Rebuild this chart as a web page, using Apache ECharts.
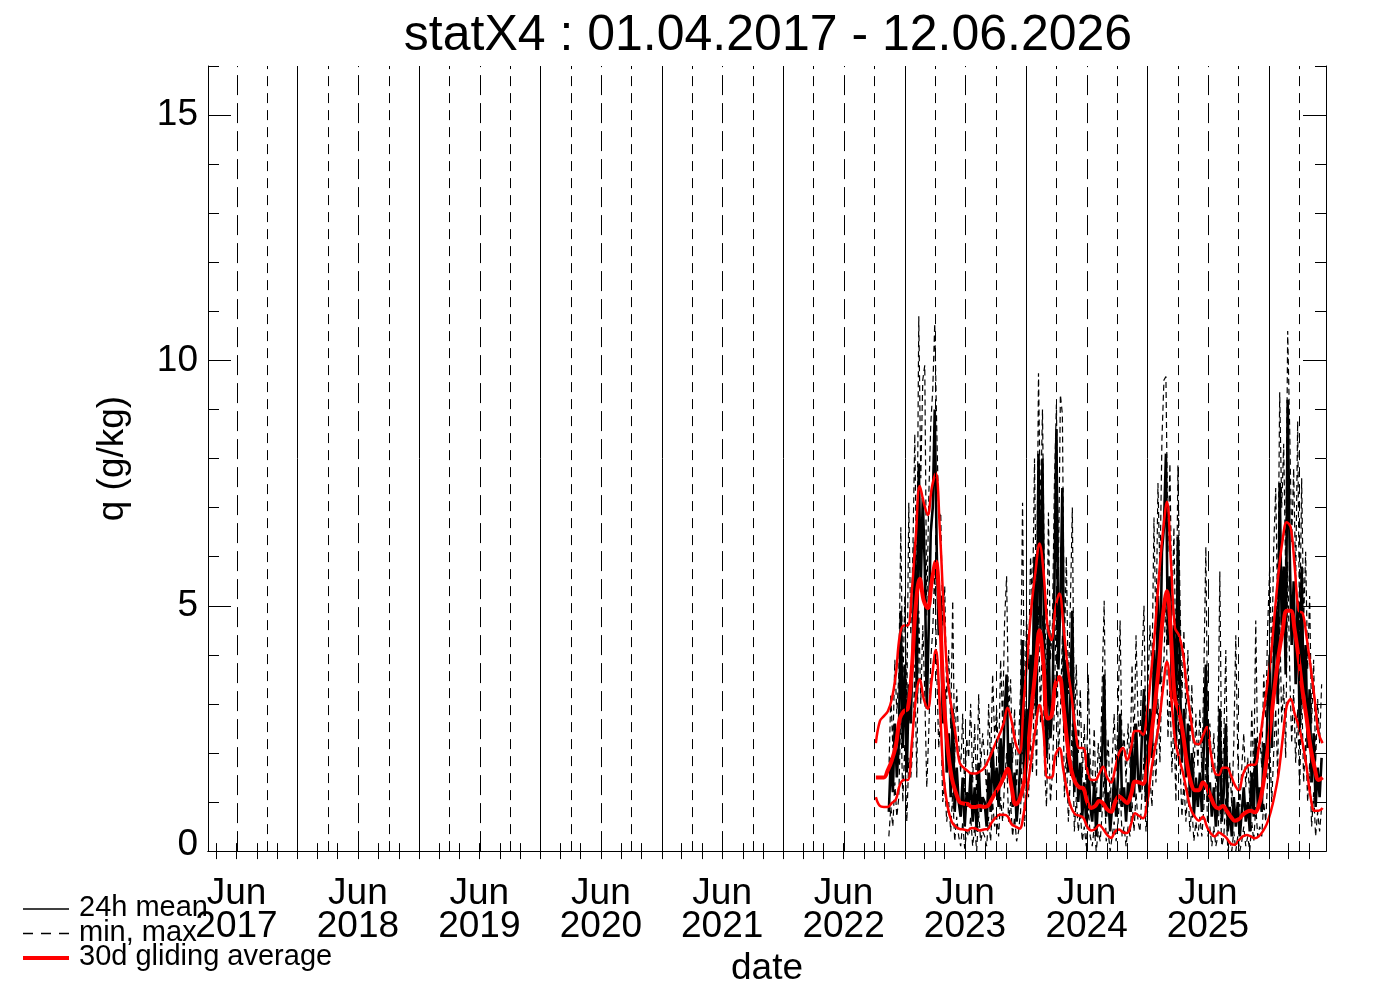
<!DOCTYPE html>
<html>
<head>
<meta charset="utf-8">
<script src="https://cdn.jsdelivr.net/npm/echarts@6/dist/echarts.min.js"></script>
<style>
  html, body { margin: 0; padding: 0; background: #fff; }
  #chart { width: 1388px; height: 992px; }
</style>
</head>
<body>
<div id="chart"></div>
<script>
const titleText = 'statX4 : 01.04.2017 - 12.06.2026';
const FONT = "'Liberation Sans', Arial, sans-serif";

// daily statistics, sampled every 6 days from the start date
const dailyStart = '2022-11-14';
const dailyStepDays = 6;
const meanValues = [
  0.8, 1.9, 1.2, 2.6, 1.5, 2.2,
  4.9, 2.1, 3.8, 1.6, 3.4, 2.6,
  4.2, 6.3, 3.1, 7.9, 5.4, 7.2,
  5.8, 2.9, 4.6, 6.5, 7.0, 9.0,
  6.1, 4.4, 5.2, 2.6, 3.3, 1.6,
  2.4, 1.1, 2.9, 0.8, 1.7, 1.0,
  0.7, 1.5, 0.5, 1.2, 0.9, 1.6,
  0.6, 1.3, 0.4, 1.8, 0.8, 1.1,
  1.0, 0.5, 1.6, 0.8, 2.1, 1.2,
  1.7, 0.9, 2.3, 1.4, 2.8, 3.6,
  1.5, 2.2, 0.9, 1.6, 0.6, 1.1,
  1.9, 4.3, 1.4, 2.9, 2.2, 4.0,
  3.1, 6.0, 2.8, 8.1, 4.5, 8.0,
  3.4, 1.9, 4.6, 2.3, 3.0, 5.4,
  8.6, 3.7, 5.1, 7.4, 2.4, 3.9,
  1.6, 3.1, 4.9, 1.2, 2.3, 1.0,
  1.8, 0.7, 1.4, 0.5, 2.0, 0.9,
  0.6, 1.4, 0.3, 1.1, 0.8, 1.9,
  3.6, 0.7, 1.2, 0.4, 0.9, 1.5,
  0.7, 1.6, 2.8, 0.9, 1.3, 0.6,
  1.4, 0.8, 2.2, 1.1, 2.6, 1.5,
  1.2, 2.4, 3.3, 1.0, 2.0, 2.9,
  1.9, 4.1, 2.8, 5.2, 3.4, 6.1,
  6.6, 8.1, 4.2, 5.6, 3.1, 4.6,
  2.2, 6.4, 3.6, 1.8, 2.9, 1.5,
  2.6, 1.1, 2.0, 0.7, 1.5, 0.9,
  1.6, 0.8, 2.1, 3.8, 1.0, 1.4,
  0.7, 1.3, 0.5, 1.0, 2.9, 0.6,
  1.2, 2.6, 0.4, 0.9, 0.3, 1.1,
  0.5, 1.0, 0.3, 0.8, 1.3, 0.6,
  1.0, 0.4, 1.6, 0.7, 2.3, 0.9,
  1.3, 0.8, 2.2, 1.5, 3.0, 4.0,
  2.1, 3.8, 5.0, 3.0, 7.5, 4.6,
  5.8, 3.6, 9.2, 6.1, 4.2, 5.5,
  3.4, 5.1, 2.5, 5.8, 3.0, 4.2,
  2.1, 3.3, 1.4, 2.4, 0.9, 1.7,
  1.1, 1.9
];
const minValues = [
  0.3, 0.9, 0.5, 1.4, 0.7, 1.1,
  2.9, 1.0, 2.2, 0.6, 1.9, 1.5,
  2.1, 3.8, 1.5, 4.9, 3.0, 4.6,
  3.2, 1.3, 2.4, 3.9, 4.5, 5.8,
  3.7, 2.1, 2.8, 1.0, 1.4, 0.6,
  1.0, 0.4, 1.2, 0.2, 0.7, 0.3,
  0.1, 0.6, 0.05, 0.4, 0.3, 0.7,
  0.1, 0.5, 0.0, 0.8, 0.2, 0.4,
  0.3, 0.1, 0.7, 0.2, 1.0, 0.5,
  0.7, 0.3, 1.1, 0.6, 1.4, 2.0,
  0.6, 1.0, 0.3, 0.7, 0.2, 0.4,
  0.8, 2.3, 0.5, 1.5, 1.1, 2.3,
  1.6, 3.6, 1.5, 5.0, 2.6, 4.8,
  1.8, 0.9, 2.7, 1.0, 1.6, 3.0,
  5.2, 1.9, 2.8, 4.4, 1.1, 2.0,
  0.6, 1.5, 2.6, 0.4, 1.1, 0.4,
  0.8, 0.2, 0.5, 0.1, 0.9, 0.3,
  0.1, 0.5, 0.0, 0.4, 0.2, 0.8,
  1.6, 0.2, 0.4, 0.0, 0.3, 0.6,
  0.2, 0.6, 1.3, 0.3, 0.5, 0.1,
  0.5, 0.3, 1.0, 0.4, 1.2, 0.6,
  0.4, 1.2, 1.9, 0.4, 0.9, 1.5,
  0.9, 2.2, 1.4, 3.1, 1.8, 3.7,
  3.9, 5.3, 2.3, 3.3, 1.6, 2.7,
  1.0, 3.9, 1.9, 0.7, 1.4, 0.6,
  1.3, 0.4, 0.9, 0.2, 0.6, 0.3,
  0.7, 0.3, 0.9, 1.9, 0.3, 0.5,
  0.1, 0.5, 0.1, 0.3, 1.2, 0.1,
  0.3, 1.1, 0.0, 0.2, 0.0, 0.4,
  0.0, 0.3, 0.0, 0.2, 0.5, 0.1,
  0.3, 0.0, 0.6, 0.2, 0.9, 0.3,
  0.5, 0.3, 1.0, 0.6, 1.5, 2.2,
  1.0, 2.0, 2.9, 1.5, 4.8, 2.6,
  3.4, 1.9, 5.9, 3.7, 2.2, 3.3,
  1.8, 2.9, 1.2, 3.3, 1.4, 2.3,
  1.0, 1.8, 0.5, 1.2, 0.3, 0.8,
  0.4, 0.9
];
const maxValues = [
  1.6, 3.2, 2.1, 3.9, 2.8, 3.6,
  6.6, 3.3, 5.2, 2.9, 7.1, 4.4,
  6.0, 8.5, 5.2, 10.9, 7.6, 9.6,
  9.9, 4.8, 7.2, 8.7, 9.4, 10.75,
  8.6, 6.8, 6.9, 4.6, 5.4, 3.1,
  4.1, 2.5, 5.1, 1.8, 3.3, 2.2,
  1.6, 2.8, 1.2, 2.3, 1.9, 3.0,
  1.4, 2.6, 1.1, 3.2, 1.7, 2.4,
  1.9, 1.2, 3.0, 1.7, 3.6, 2.3,
  2.9, 1.8, 3.9, 2.6, 4.7, 5.6,
  2.8, 3.5, 1.8, 2.9, 1.3, 2.2,
  3.3, 7.1, 2.6, 4.8, 3.7, 6.0,
  5.0, 8.0, 4.6, 9.74, 6.8, 9.0,
  5.4, 3.3, 6.9, 3.9, 4.6, 7.5,
  9.1, 5.6, 9.3, 8.9, 4.1, 6.0,
  3.2, 5.0, 7.0, 2.4, 3.8, 2.0,
  3.3, 1.5, 2.6, 1.1, 3.6, 1.8,
  1.3, 2.5, 0.9, 2.2, 1.6, 3.4,
  5.1, 1.6, 2.3, 1.0, 1.8, 2.8,
  1.6, 2.9, 4.7, 1.9, 2.4, 1.4,
  2.6, 1.7, 3.8, 2.1, 4.4, 2.7,
  2.3, 3.9, 5.0, 2.0, 3.4, 4.6,
  3.6, 6.8, 4.4, 7.5, 5.6, 8.4,
  9.6, 9.67, 6.1, 7.9, 4.8, 6.6,
  3.8, 7.86, 5.2, 3.1, 4.5, 2.7,
  4.1, 2.2, 3.4, 1.5, 2.8, 1.7,
  2.9, 1.6, 3.6, 6.2, 2.1, 2.6,
  1.6, 2.4, 1.2, 1.9, 5.7, 1.4,
  2.3, 4.1, 1.0, 1.8, 0.9, 2.2,
  4.4, 1.9, 0.9, 1.7, 2.4, 1.3,
  1.9, 1.0, 2.9, 1.5, 4.7, 1.8,
  2.4, 1.7, 3.6, 2.7, 4.6, 5.8,
  3.8, 6.2, 7.4, 4.8, 9.35, 7.0,
  8.3, 5.6, 10.6, 8.6, 6.3, 7.8,
  5.5, 8.76, 4.2, 7.6, 4.7, 6.1,
  3.7, 5.2, 2.6, 3.9, 1.8, 3.1,
  2.2, 3.4
];

// 30 day gliding averages, sampled every 12 days from the start date
const avgStart = '2022-10-06';
const avgStepDays = 12;
const avgOfMax = [
  2.2, 2.65, 2.75, 2.85, 3.1, 3.6, 4.4, 4.6, 4.6, 5.3,
  6.4, 7.44, 7.1, 6.85, 7.4, 7.7, 6.6, 4.9, 3.5, 2.9,
  2.35, 1.8, 1.7, 1.63, 1.58, 1.58, 1.62, 1.68, 1.82, 2.0,
  2.2, 2.38, 2.6, 2.92, 2.65, 2.2, 2.0, 3.0, 4.0, 5.0,
  5.7, 6.27, 5.7, 4.6, 4.3, 4.95, 5.25, 4.6, 3.8, 3.2,
  2.5, 2.1, 2.1, 1.65, 1.45, 1.45, 1.58, 1.72, 1.5, 1.4,
  1.68, 2.0, 2.1, 1.85, 2.1, 2.45, 2.45, 2.37, 2.8, 3.6,
  4.5, 5.6, 6.5, 7.12, 5.9, 4.55, 4.4, 4.05, 3.3, 2.7,
  2.2, 2.18, 2.35, 2.53, 2.0, 1.6, 1.55, 1.7, 1.7, 1.55,
  1.35, 1.24, 1.55, 1.72, 1.76, 1.76, 2.1, 2.7, 3.3, 3.95,
  4.85, 5.7, 6.35, 6.7, 6.6, 5.8, 4.9, 4.85, 4.35, 3.75,
  3.1, 2.4, 2.2
];
const avgOfMean = [
  1.5, 1.5, 1.5, 1.65, 1.85, 2.15, 2.7, 2.85, 2.9, 3.7,
  5.0, 5.55, 5.1, 4.95, 5.5, 5.9, 4.9, 3.1, 2.1, 1.5,
  1.2, 1.0, 0.97, 0.96, 0.9, 0.9, 0.92, 0.9, 0.92, 1.05,
  1.2, 1.33, 1.5, 1.68, 1.3, 0.95, 1.05, 1.35, 2.0, 2.9,
  3.7, 4.5, 3.8, 2.7, 2.75, 3.4, 3.55, 2.95, 2.2, 1.65,
  1.4, 1.3, 1.28, 1.0, 0.88, 0.92, 1.02, 0.97, 0.85, 0.8,
  1.0, 1.12, 1.05, 0.98, 1.15, 1.42, 1.4, 1.37, 1.7, 2.3,
  3.0, 3.8, 4.8, 5.3, 4.4, 3.1, 2.85, 2.4, 1.8, 1.4,
  1.24, 1.24, 1.4, 1.3, 1.1, 0.92, 0.87, 0.92, 0.82, 0.7,
  0.62, 0.65, 0.74, 0.8, 0.82, 0.79, 0.92, 1.3, 1.9, 2.6,
  3.35, 4.0, 4.5, 4.9, 4.9, 4.5, 3.92, 3.25, 2.7, 2.1,
  1.7, 1.45, 1.5
];
const avgOfMin = [
  1.1, 0.92, 0.9, 0.9, 0.98, 1.05, 1.35, 1.45, 1.45, 2.2,
  3.1, 3.5, 3.1, 2.9, 3.5, 4.1, 3.0, 1.5, 0.9, 0.6,
  0.5, 0.45, 0.44, 0.42, 0.47, 0.46, 0.42, 0.44, 0.45, 0.58,
  0.68, 0.74, 0.74, 0.71, 0.55, 0.5, 0.46, 0.75, 1.3, 1.9,
  2.5, 2.98, 2.45, 1.5, 1.5, 1.95, 2.1, 1.65, 1.2, 0.88,
  0.75, 0.72, 0.68, 0.5, 0.42, 0.45, 0.53, 0.45, 0.33, 0.27,
  0.4, 0.44, 0.38, 0.37, 0.55, 0.77, 0.72, 0.67, 0.95, 1.6,
  2.1, 2.6, 3.3, 3.86, 3.2, 2.3, 1.9, 1.6, 1.2, 0.85,
  0.7, 0.62, 0.7, 0.5, 0.36, 0.3, 0.38, 0.33, 0.26, 0.15,
  0.13, 0.22, 0.3, 0.33, 0.3, 0.26, 0.3, 0.4, 0.55, 0.8,
  1.15, 1.6, 2.3, 2.95, 3.1, 2.8, 2.55, 2.2, 1.7, 1.1,
  0.82, 0.82, 0.88
];

const labelYears = [2017, 2018, 2019, 2020, 2021, 2022, 2023, 2024, 2025];
const gridYears = [2017, 2018, 2019, 2020, 2021, 2022, 2023, 2024, 2025, 2026];
const yMajorTicks = [0, 5, 10, 15];
const yMinorTicks = [1, 2, 3, 4, 6, 7, 8, 9, 11, 12, 13, 14, 16];
const legendNames = ['24h mean', 'min, max', '30d gliding average'];

// x axis is in fractional years
const xMin = 2017.261;
const xMax = 2026.469;
const DAY = 86400000;

function toYear(ms) {
    const y = new Date(ms).getUTCFullYear();
    const a = Date.UTC(y, 0, 1), b = Date.UTC(y + 1, 0, 1);
    return y + (ms - a) / (b - a);
}
function points(start, step, values) {
    const t0 = Date.parse(start + 'T00:00:00Z');
    return values.map((v, i) => [toYear(t0 + i * step * DAY), v]);
}
const inRange = v => v >= xMin && v <= xMax;

// vertical grid lines: Jan solid, Jul long dash, Apr/Oct short dash
const gridLines = [];
gridYears.forEach(y => {
    gridLines.push({ x: toYear(Date.UTC(y, 0, 1)), type: 'solid' });
    gridLines.push({ x: toYear(Date.UTC(y, 3, 1)), type: [10, 7] });
    gridLines.push({ x: toYear(Date.UTC(y, 6, 1)), type: [20, 8] });
    gridLines.push({ x: toYear(Date.UTC(y, 9, 1)), type: [10, 7] });
});
const xTicks = [];
gridYears.forEach(y => [0, 2, 4, 6, 8, 10].forEach(m => xTicks.push(toYear(Date.UTC(y, m, 1)))));
const xLabelPos = labelYears.map(y => toYear(Date.UTC(y, 6, 1)));

const black = '#000';
const red = '#ff0000';
const txt = { color: black, fontFamily: FONT };

function xAxisDef(pos) {
    return {
        type: 'value', min: xMin, max: xMax, position: pos,
        axisLine: { show: true, lineStyle: { color: black, width: 1 } },
        axisTick: { show: true, inside: true, length: 8, customValues: xTicks.filter(inRange), lineStyle: { color: black } },
        axisLabel: pos === 'bottom' ? {
            customValues: xLabelPos, margin: 26, fontSize: 37, lineHeight: 33, ...txt,
            formatter: v => 'Jun\n' + Math.floor(v)
        } : { show: false },
        splitLine: { show: false },
        name: pos === 'bottom' ? 'date' : '',
        nameLocation: 'middle', nameGap: 98,
        nameTextStyle: { fontSize: 37, ...txt }
    };
}
function yAxisDef(pos, major) {
    const ax = {
        type: 'value', min: 0, max: 16, position: pos,
        axisLine: { show: major, lineStyle: { color: black, width: 1 } },
        axisTick: { show: true, inside: true, length: major ? 23 : 11, customValues: major ? yMajorTicks : yMinorTicks, lineStyle: { color: black } },
        axisLabel: { show: false },
        splitLine: { show: false }
    };
    if (major && pos === 'left') {
        ax.axisLabel = {
            show: true, customValues: yMajorTicks, margin: 10, fontSize: 37, ...txt,
            formatter: v => v === 0 ? '{z|0}' : String(v),
            rich: { z: { fontSize: 37, padding: [0, 0, 13, 0], ...txt } }
        };
        ax.name = 'q (g/kg)';
        ax.nameLocation = 'middle';
        ax.nameGap = 77;
        ax.nameRotate = 90;
        ax.nameTextStyle = { fontSize: 37, ...txt };
    }
    return ax;
}

// legend drawn as graphic rows: [name, colour, width, dash]
const legendRows = [
    [legendNames[0], black, 1.5, null],
    [legendNames[1], black, 1.5, [10, 8]],
    [legendNames[2], red, 4, null]
];
const legendGraphic = [];
legendRows.forEach((r, i) => {
    const y = 909 + i * 24.5;
    legendGraphic.push({
        type: 'line', shape: { x1: 23, y1: y, x2: 69, y2: y },
        style: { stroke: r[1], lineWidth: r[2], lineDash: r[3] }
    });
    legendGraphic.push({
        type: 'text', x: 79, y: y - 1,
        style: { text: r[0], textVerticalAlign: 'middle', fontSize: 29, fontFamily: FONT, fill: black }
    });
});

const chart = echarts.init(document.getElementById('chart'));
chart.setOption({
    animation: false,
    backgroundColor: '#fff',
    grid: { left: 208, right: 62, top: 66, bottom: 134, containLabel: false },
    graphic: [{
        type: 'text', x: 768, y: 36,
        style: { text: titleText, textAlign: 'center', textVerticalAlign: 'middle', fontSize: 50, fontFamily: FONT, fill: black }
    }].concat(legendGraphic),
    xAxis: [xAxisDef('bottom'), xAxisDef('top')],
    yAxis: [yAxisDef('left', true), yAxisDef('left', false), yAxisDef('right', true), yAxisDef('right', false)],
    series: [
        {
            type: 'line', name: 'grid', data: [], silent: true, z: 1,
            markLine: {
                silent: true, symbol: ['none', 'none'], label: { show: false }, animation: false,
                data: gridLines.filter(g => inRange(g.x)).map(g => ({ xAxis: g.x, lineStyle: { color: black, width: 1, type: g.type } }))
            }
        },
        { type: 'line', name: legendNames[1], data: points(dailyStart, dailyStepDays, minValues), symbol: 'none', lineStyle: { color: black, width: 1.2, type: [6, 4] }, z: 2 },
        { type: 'line', name: legendNames[1], data: points(dailyStart, dailyStepDays, maxValues), symbol: 'none', lineStyle: { color: black, width: 1.2, type: [6, 4] }, z: 2 },
        { type: 'line', name: legendNames[0], data: points(dailyStart, dailyStepDays, meanValues), symbol: 'none', lineStyle: { color: black, width: 2.6 }, z: 2 },
        { type: 'line', name: legendNames[2], data: points(avgStart, avgStepDays, avgOfMax), symbol: 'none', smooth: 0.4, lineStyle: { color: red, width: 2.5 }, z: 3 },
        { type: 'line', name: legendNames[2], data: points(avgStart, avgStepDays, avgOfMin), symbol: 'none', smooth: 0.4, lineStyle: { color: red, width: 2.5 }, z: 3 },
        { type: 'line', name: legendNames[2], data: points(avgStart, avgStepDays, avgOfMean), symbol: 'none', smooth: 0.4, lineStyle: { color: red, width: 4 }, z: 3 }
    ]
});
window.addEventListener('resize', () => chart.resize());
</script>
</body>
</html>
